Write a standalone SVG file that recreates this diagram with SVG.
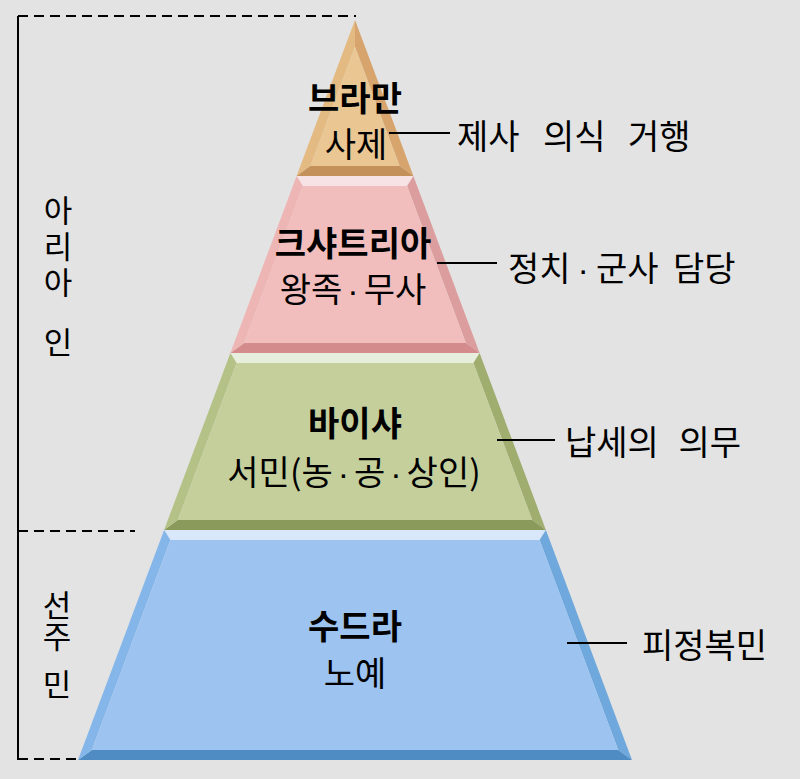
<svg xmlns="http://www.w3.org/2000/svg" width="800" height="779" viewBox="0 0 800 779">
<style>
text{font-family:"Noto Sans CJK KR","Noto Sans",sans-serif;fill:#000;font-size:34px}
.c{text-anchor:middle}
.b{font-weight:bold}
.r{font-weight:normal}
.v{writing-mode:vertical-rl;text-orientation:upright;font-size:31px}
.s{font-size:31px}
.dot{font-family:"Liberation Sans",sans-serif}
.ln{stroke:#000;stroke-width:2;fill:none}
.d{stroke:#000;stroke-width:2;fill:none;stroke-dasharray:10 6}
</style>
<rect width="800" height="779" fill="#e3e3e3"/>
<g id="bracket">
<line class="ln" x1="18" y1="16" x2="18" y2="760"/>
<line class="d" x1="18" y1="16" x2="356" y2="16"/>
<line class="d" x1="18" y1="531" x2="135" y2="531"/>
<line class="d" x1="18" y1="759" x2="80" y2="759"/>
</g>
<g id="aryan">
<text class="v" x="58" y="195" letter-spacing="5">아리아</text>
<text class="c s" x="58" y="354">인</text>
</g>
<g id="native">
<text class="v" x="57" y="590" letter-spacing="0">선주</text>
<text class="c s" x="57" y="696">민</text>
</g>
<g id="brahman">
<polygon points="355,20 296.6,176 310.4,166 355,46.7" fill="#e3ba82"/>
<polygon points="355,20 413.4,176 399.6,166 355,46.7" fill="#d6a46c"/>
<polygon points="296.6,176 413.4,176 399.6,166 310.4,166" fill="#c39159"/>
<polygon points="355,46.7 310.4,166 399.6,166" fill="#e9c692"/>
<text class="c" x="355" y="111"><tspan class="b">브라만</tspan><tspan class="r" x="356" y="157">사제</tspan></text>
</g>
<g id="kshatriya">
<polygon points="296.6,176 413.4,176 407.1,186 302.9,186" fill="#f7e3e6"/>
<polygon points="413.4,176 479.6,353 465.9,343 407.1,186" fill="#dc9d9e"/>
<polygon points="479.6,353 230.4,353 244.1,343 465.9,343" fill="#d48b8c"/>
<polygon points="230.4,353 296.6,176 302.9,186 244.1,343" fill="#eeb5b5"/>
<polygon points="302.9,186 407.1,186 465.9,343 244.1,343" fill="#f1bdbd"/>
<text class="c" x="353" y="256"><tspan class="b">크샤트리아</tspan><tspan x="353" y="302">왕족</tspan><tspan class="dot" dx="5">·</tspan><tspan dx="5">무사</tspan></text>
</g>
<g id="vaishya">
<polygon points="230.4,353 479.6,353 473.4,363 236.6,363" fill="#e7eedd"/>
<polygon points="479.6,353 545.9,530 532.2,520 473.4,363" fill="#9fae6e"/>
<polygon points="545.9,530 164.1,530 177.8,520 532.2,520" fill="#8a9a5a"/>
<polygon points="164.1,530 230.4,353 236.6,363 177.8,520" fill="#b4c287"/>
<polygon points="236.6,363 473.4,363 532.2,520 177.8,520" fill="#c4cf9c"/>
<text class="c" x="355" y="436"><tspan class="b">바이샤</tspan><tspan x="354" y="485">서민(농</tspan><tspan class="dot" dx="5">·</tspan><tspan dx="5">공</tspan><tspan class="dot" dx="5">·</tspan><tspan dx="5">상인)</tspan></text>
</g>
<g id="sudra">
<polygon points="164.1,530 545.9,530 539.6,540 170.4,540" fill="#d8e7fa"/>
<polygon points="545.9,530 632,760 618.2,750 539.6,540" fill="#6ea8dc"/>
<polygon points="632,760 78,760 91.8,750 618.2,750" fill="#4e8cc3"/>
<polygon points="78,760 164.1,530 170.4,540 91.8,750" fill="#84b6ea"/>
<polygon points="170.4,540 539.6,540 618.2,750 91.8,750" fill="#9dc3f1"/>
<text class="c" x="355" y="639"><tspan class="b">수드라</tspan><tspan x="355" y="686">노예</tspan></text>
</g>
<g id="connectors">
<line class="ln" x1="389" y1="133" x2="450" y2="133"/>
<line class="ln" x1="437" y1="263" x2="497" y2="263"/>
<line class="ln" x1="497" y1="440" x2="555" y2="440"/>
<line class="ln" x1="567" y1="643" x2="627" y2="643"/>
</g>
<g id="labels">
<text x="457" y="149">제사</text>
<text x="543" y="149">의식</text>
<text x="628" y="149">거행</text>
<text x="508" y="281">정치<tspan class="dot" dx="7">·</tspan><tspan dx="7">군사</tspan><tspan dx="7"> 담당</tspan></text>
<text x="565" y="455">납세의<tspan dx="12"> 의무</tspan></text>
<text x="642" y="658">피정복민</text>
</g>
</svg>
